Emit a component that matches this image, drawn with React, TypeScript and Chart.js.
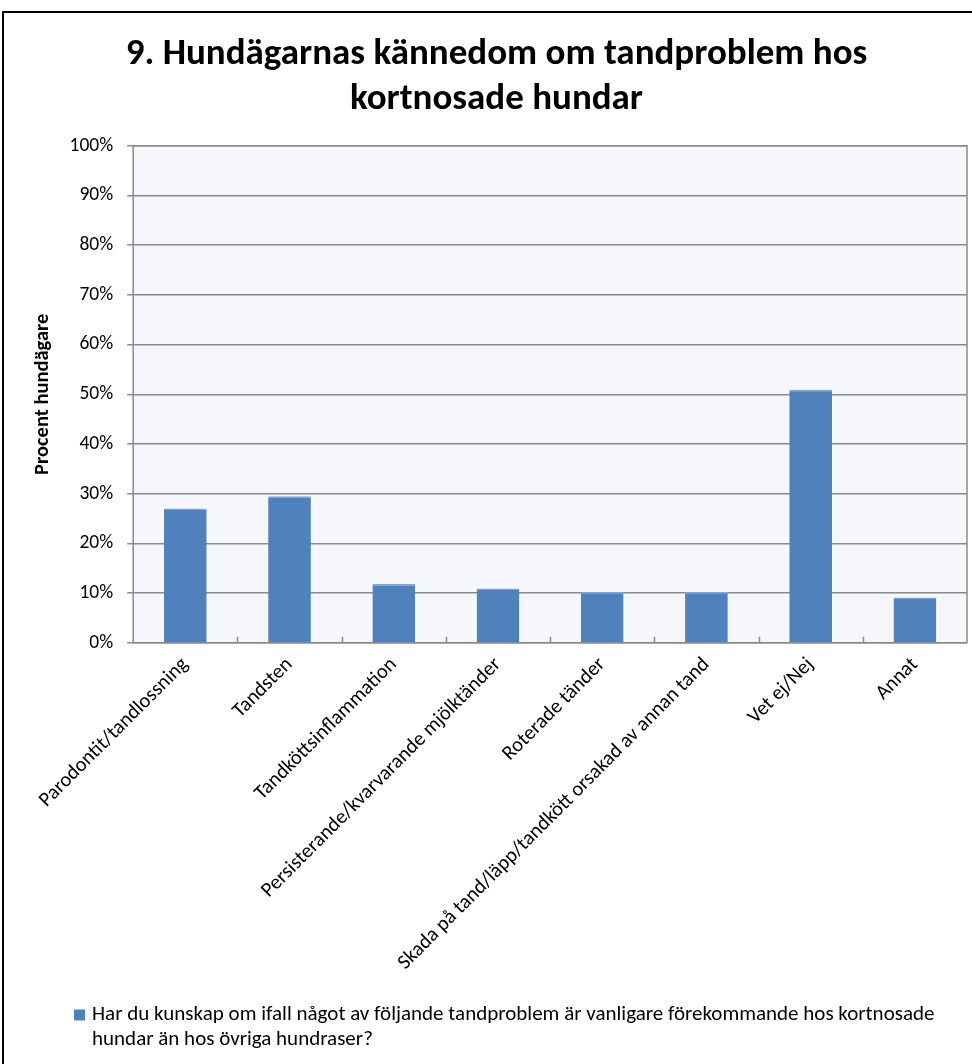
import React, { useEffect, useRef } from 'react';
import { Chart, registerables } from 'chart.js';

Chart.register(...registerables);

const titleLines = ['9. Hundägarnas kännedom om tandproblem hos', 'kortnosade hundar'];
const yAxisTitle = 'Procent hundägare';
const categories = [
  'Parodontit/tandlossning',
  'Tandsten',
  'Tandköttsinflammation',
  'Persisterande/kvarvarande mjölktänder',
  'Roterade tänder',
  'Skada på tand/läpp/tandkött orsakad av annan tand',
  'Vet ej/Nej',
  'Annat',
];
const values = [27.0, 29.5, 11.8, 10.9, 10.2, 10.2, 50.9, 9.1];
const seriesLabelLines = [
  'Har du kunskap om ifall något av följande tandproblem är vanligare förekommande hos kortnosade',
  'hundar än hos övriga hundraser?',
];
const yMin = 0;
const yMax = 100;
const yStep = 10;

const FONT = 'Carlito, Lato, "Open Sans", sans-serif';
const BAR_COLOR = '#4F81BD';

const plotDecor = {
  id: 'plotDecor',
  beforeDraw(chart: any) {
    const { ctx, chartArea: a } = chart;
    ctx.save();
    ctx.fillStyle = '#F5F7FC';
    ctx.fillRect(a.left, a.top, a.right - a.left, a.bottom - a.top);
    ctx.restore();
  },
  afterDatasetsDraw(chart: any) {
    const { ctx, chartArea: a } = chart;
    const xs = chart.scales.x;
    ctx.save();
    ctx.strokeStyle = '#8a8a8a';
    ctx.lineWidth = 1.5;
    ctx.strokeRect(a.left, a.top, a.right - a.left, a.bottom - a.top);
    ctx.beginPath();
    for (let i = 0; i < categories.length - 1; i++) {
      const x = Math.round((xs.getPixelForValue(i) + xs.getPixelForValue(i + 1)) / 2) + 0.5;
      ctx.moveTo(x, a.bottom);
      ctx.lineTo(x, a.bottom - 6);
    }
    ctx.stroke();
    ctx.restore();
  },
};

// Legend drawn as a left-aligned, two-line entry (like the original)
const wrappedLegend = {
  id: 'wrappedLegend',
  afterDraw(chart: any) {
    const { ctx } = chart;
    const ds = chart.data.datasets[0];
    const x0 = 74;
    const y0 = chart.height - 49;
    const lineH = 25;
    ctx.save();
    ctx.fillStyle = ds.backgroundColor;
    ctx.fillRect(x0, y0 - 5.5, 11, 11);
    ctx.fillStyle = '#000';
    ctx.font = `21px ${FONT}`;
    ctx.textBaseline = 'middle';
    ctx.textAlign = 'left';
    seriesLabelLines.forEach((line, i) => {
      ctx.fillText(line, x0 + 18, y0 + i * lineH);
    });
    ctx.restore();
  },
};

export default function App() {
  const ref = useRef<HTMLCanvasElement | null>(null);
  useEffect(() => {
    if (!ref.current) return;
    const chart = new Chart(ref.current, {
      type: 'bar',
      data: {
        labels: categories,
        datasets: [
          {
            label: seriesLabelLines.join(' '),
            data: values,
            backgroundColor: BAR_COLOR,
            borderColor: '#7FA3D6',
            borderWidth: { top: 1.5, left: 0, right: 0, bottom: 0 },
            borderSkipped: false,
            categoryPercentage: 1,
            barPercentage: 0.41,
          },
        ],
      },
      options: {
        responsive: false,
        animation: false,
        layout: { padding: { left: 26, right: 23, top: 0, bottom: 87 } },
        plugins: {
          title: {
            display: true,
            text: titleLines,
            color: '#000',
            font: { family: FONT, size: 37, weight: 'bold', lineHeight: 1.2 },
            padding: { top: 33, bottom: 24 },
          },
          legend: { display: false },
          tooltip: { enabled: false },
        },
        scales: {
          x: {
            grid: { display: false, offset: true },
            border: { display: false },
            ticks: {
              color: '#000',
              font: { family: FONT, size: 20.5 },
              minRotation: 45,
              maxRotation: 45,
              autoSkip: false,
              padding: 2,
            },
          },
          y: {
            min: yMin,
            max: yMax,
            grid: { color: '#8a8a8a', lineWidth: 1.5, tickLength: 6, drawTicks: true },
            border: { display: false },
            ticks: {
              stepSize: yStep,
              color: '#000',
              font: { family: FONT, size: 19.5 },
              padding: 14,
              callback: (v: any) => `${v}%`,
            },
            title: {
              display: true,
              text: yAxisTitle,
              color: '#000',
              font: { family: FONT, size: 20.5, weight: 'bold' },
              padding: { top: 5, bottom: 0 },
            },
          },
        },
      },
      plugins: [plotDecor, wrappedLegend],
    });
    return () => chart.destroy();
  }, []);

  return (
    <div
      style={{
        position: 'fixed',
        left: 0,
        top: 0,
        width: 972,
        height: 1064,
        overflow: 'hidden',
        background: '#fff',
      }}
    >
      <canvas ref={ref} width={990} height={1064} style={{ position: 'absolute', left: 0, top: 0 }} />
      <div
        style={{
          position: 'absolute',
          left: 2,
          top: 11,
          width: 1000,
          height: 1100,
          border: '2px solid #000',
          pointerEvents: 'none',
        }}
      />
    </div>
  );
}
